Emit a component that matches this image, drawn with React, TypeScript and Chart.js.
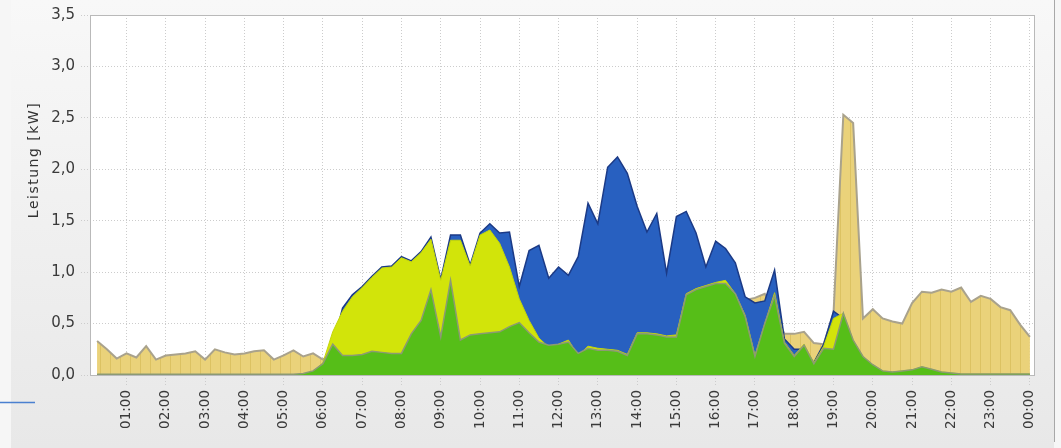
import React, { useEffect, useRef } from 'react';
import { Chart, registerables } from 'chart.js';

Chart.register(...registerables);

const TIMES = [
  '00:15', '00:30', '00:45', '01:00', '01:15', '01:30', '01:45', '02:00',
  '02:15', '02:30', '02:45', '03:00', '03:15', '03:30', '03:45', '04:00',
  '04:15', '04:30', '04:45', '05:00', '05:15', '05:30', '05:45', '06:00',
  '06:15', '06:30', '06:45', '07:00', '07:15', '07:30', '07:45', '08:00',
  '08:15', '08:30', '08:45', '09:00', '09:15', '09:30', '09:45', '10:00',
  '10:15', '10:30', '10:45', '11:00', '11:15', '11:30', '11:45', '12:00',
  '12:15', '12:30', '12:45', '13:00', '13:15', '13:30', '13:45', '14:00',
  '14:15', '14:30', '14:45', '15:00', '15:15', '15:30', '15:45', '16:00',
  '16:15', '16:30', '16:45', '17:00', '17:15', '17:30', '17:45', '18:00',
  '18:15', '18:30', '18:45', '19:00', '19:15', '19:30', '19:45', '20:00',
  '20:15', '20:30', '20:45', '21:00', '21:15', '21:30', '21:45', '22:00',
  '22:15', '22:30', '22:45', '23:00', '23:15', '23:30', '23:45', '24:00',
];

// tan area
const CONSUMPTION = [
  0.33, 0.25, 0.16, 0.21,
  0.17, 0.28, 0.15, 0.19,
  0.20, 0.21, 0.23, 0.15,
  0.25, 0.22, 0.20, 0.21,
  0.23, 0.24, 0.15, 0.19,
  0.24, 0.18, 0.21, 0.15,
  0.22, 0.30, 0.35, 0.35,
  0.40, 0.40, 0.45, 0.45,
  0.50, 0.55, 0.80, 0.40,
  0.85, 0.40, 0.45, 0.45,
  0.45, 0.45, 0.50, 0.55,
  0.45, 0.35, 0.30, 0.30,
  0.34, 0.20, 0.28, 0.26,
  0.26, 0.25, 0.21, 0.42,
  0.42, 0.41, 0.39, 0.40,
  0.80, 0.85, 0.88, 0.90,
  0.90, 0.80, 0.73, 0.75,
  0.79, 0.62, 0.40, 0.40,
  0.42, 0.31, 0.30, 0.60,
  2.53, 2.45, 0.55, 0.64,
  0.55, 0.52, 0.50, 0.70,
  0.81, 0.80, 0.83, 0.81,
  0.85, 0.71, 0.77, 0.74,
  0.66, 0.63, 0.49, 0.37,
];

// blue area
const PRODUCTION = [
  0, 0, 0, 0,
  0, 0, 0, 0,
  0, 0, 0, 0,
  0, 0, 0, 0,
  0, 0, 0, 0,
  0, 0, 0, 0.10,
  0.28, 0.65, 0.78, 0.86,
  0.96, 1.05, 1.06, 1.15,
  1.11, 1.20, 1.34, 0.93,
  1.36, 1.36, 1.07, 1.38,
  1.47, 1.38, 1.39, 0.86,
  1.21, 1.26, 0.94, 1.05,
  0.97, 1.15, 1.67, 1.47,
  2.02, 2.12, 1.96, 1.64,
  1.39, 1.57, 0.99, 1.54,
  1.59, 1.38, 1.05, 1.30,
  1.23, 1.09, 0.76, 0.70,
  0.72, 1.02, 0.35, 0.25,
  0.25, 0.12, 0.30, 0.62,
  0.55, 0.30, 0.12, 0.05,
  0.02, 0, 0, 0,
  0, 0, 0, 0,
  0, 0, 0, 0,
  0, 0, 0, 0,
];

// lime area
const SELF_USE = [
  0, 0, 0, 0,
  0, 0, 0, 0,
  0, 0, 0, 0,
  0, 0, 0, 0,
  0, 0, 0, 0,
  0, 0, 0.03, 0.12,
  0.42, 0.62, 0.76, 0.85,
  0.95, 1.04, 1.05, 1.14,
  1.10, 1.19, 1.32, 0.92,
  1.31, 1.31, 1.06, 1.36,
  1.41, 1.28, 1.05, 0.74,
  0.53, 0.36, 0.27, 0.30,
  0.34, 0.19, 0.28, 0.26,
  0.25, 0.24, 0.20, 0.41,
  0.41, 0.40, 0.38, 0.39,
  0.79, 0.84, 0.87, 0.90,
  0.92, 0.79, 0.58, 0.19,
  0.50, 0.80, 0.32, 0.19,
  0.30, 0.12, 0.28, 0.55,
  0.60, 0.34, 0.18, 0.10,
  0.04, 0.03, 0.04, 0.05,
  0.08, 0.055, 0.03, 0.02,
  0.01, 0.01, 0.01, 0.01,
  0.01, 0.01, 0.01, 0.01,
];

// green area
const DIRECT_USE = [
  0.008, 0.008, 0.008, 0.008,
  0.008, 0.008, 0.008, 0.008,
  0.008, 0.008, 0.008, 0.008,
  0.008, 0.008, 0.008, 0.008,
  0.008, 0.008, 0.008, 0.008,
  0.008, 0.015, 0.04, 0.11,
  0.30, 0.19, 0.19, 0.20,
  0.23, 0.22, 0.21, 0.21,
  0.40, 0.53, 0.83, 0.37,
  0.92, 0.34, 0.39, 0.40,
  0.41, 0.42, 0.47, 0.51,
  0.41, 0.32, 0.29, 0.30,
  0.32, 0.21, 0.26, 0.24,
  0.24, 0.23, 0.19, 0.40,
  0.40, 0.39, 0.37, 0.37,
  0.78, 0.83, 0.86, 0.89,
  0.89, 0.79, 0.57, 0.18,
  0.50, 0.77, 0.31, 0.18,
  0.29, 0.11, 0.26, 0.25,
  0.60, 0.34, 0.18, 0.10,
  0.04, 0.03, 0.04, 0.05,
  0.08, 0.055, 0.03, 0.02,
  0.01, 0.01, 0.01, 0.01,
  0.01, 0.01, 0.01, 0.01,
];

const X_TICK_HOURS = [1, 2, 3, 4, 5, 6, 7, 8, 9, 10, 11, 12, 13, 14, 15, 16, 17, 18, 19, 20, 21, 22, 23, 24];
const X_TICK_LABELS = [
  '01:00', '02:00', '03:00', '04:00', '05:00', '06:00', '07:00', '08:00',
  '09:00', '10:00', '11:00', '12:00', '13:00', '14:00', '15:00', '16:00',
  '17:00', '18:00', '19:00', '20:00', '21:00', '22:00', '23:00', '00:00',
];
const Y_TICK_VALUES = [0, 0.5, 1, 1.5, 2, 2.5, 3, 3.5];
const Y_TICK_LABELS = ['0,0', '0,5', '1,0', '1,5', '2,0', '2,5', '3,0', '3,5'];
const Y_TITLE = 'Leistung [kW]';

const toHours = (t: string) => {
  const [h, m] = t.split(':').map(Number);
  return h + m / 60;
};

const series = (vals: number[]) => TIMES.map((t, i) => ({ x: toHours(t), y: vals[i] }));

const decorPlugin = {
  id: 'decor',
  beforeDraw(chart: any) {
    const { ctx, width, height, chartArea: a } = chart;
    ctx.save();
    ctx.fillStyle = '#f6f6f6';
    ctx.fillRect(0, 0, width, height);
    const g = ctx.createLinearGradient(0, 0, 0, height);
    g.addColorStop(0, '#f8f8f8');
    g.addColorStop(1, '#e8e8e8');
    ctx.fillStyle = g;
    ctx.fillRect(11, 0, 1043, height);
    ctx.fillStyle = '#ffffff';
    ctx.fillRect(a.left, a.top, a.right - a.left, a.bottom - a.top);
    ctx.restore();
  },
  afterDraw(chart: any) {
    const { ctx, height, chartArea: a } = chart;
    ctx.save();
    ctx.strokeStyle = '#b9b9b9';
    ctx.lineWidth = 1;
    ctx.strokeRect(a.left + 0.5, a.top + 0.5, a.right - a.left - 1, a.bottom - a.top);
    // right panel edge
    ctx.strokeStyle = '#a8a8a8';
    ctx.beginPath();
    ctx.moveTo(1054.5, 0);
    ctx.lineTo(1054.5, height - 6);
    ctx.stroke();
    // small blue line bottom-left
    ctx.strokeStyle = '#4a80d0';
    ctx.lineWidth = 1.5;
    ctx.beginPath();
    ctx.moveTo(0, 402.5);
    ctx.lineTo(35, 402.5);
    ctx.stroke();
    // y-axis title
    ctx.translate(34, 160);
    ctx.rotate(-Math.PI / 2);
    ctx.fillStyle = '#333333';
    ctx.font = '14px "DejaVu Sans"';
    (ctx as any).letterSpacing = '1.5px';
    ctx.textAlign = 'center';
    ctx.textBaseline = 'middle';
    ctx.fillText(Y_TITLE, 0, 0);
    ctx.restore();
  },
};

export default function App() {
  const ref = useRef<HTMLCanvasElement | null>(null);

  useEffect(() => {
    if (!ref.current) return;
    document.body.style.margin = '0';

    const pc = document.createElement('canvas');
    pc.width = 10;
    pc.height = 4;
    const pctx = pc.getContext('2d')!;
    pctx.fillStyle = '#ead27a';
    pctx.fillRect(0, 0, 10, 4);
    pctx.fillStyle = '#dcc262';
    pctx.fillRect(0, 0, 1, 4);
    const tanFill = pctx.createPattern(pc, 'repeat') || '#ead27a';

    const gridColor = '#cccccc';
    const chart = new Chart(ref.current, {
      type: 'line',
      data: {
        datasets: [
          {
            label: 'Direktverbrauch',
            data: series(DIRECT_USE),
            fill: 'origin',
            backgroundColor: '#56be18',
            borderColor: '#8c9a74',
            borderWidth: 1.5,
            pointRadius: 0,
            tension: 0,
            order: 1,
          },
          {
            label: 'Eigenverbrauch',
            data: series(SELF_USE),
            fill: 'origin',
            backgroundColor: '#d2e40a',
            borderColor: '#c4d60a',
            borderWidth: 1,
            pointRadius: 0,
            tension: 0,
            order: 2,
          },
          {
            label: 'Erzeugung',
            data: series(PRODUCTION),
            fill: 'origin',
            backgroundColor: '#2860c0',
            borderColor: '#1b3a86',
            borderWidth: 1.5,
            pointRadius: 0,
            tension: 0,
            order: 3,
          },
          {
            label: 'Verbrauch',
            data: series(CONSUMPTION),
            fill: 'origin',
            backgroundColor: tanFill as any,
            borderColor: '#a9a28c',
            borderWidth: 2,
            pointRadius: 0,
            tension: 0,
            order: 4,
          },
        ],
      },
      options: {
        animation: false,
        responsive: false,
        maintainAspectRatio: false,
        layout: { padding: { top: 14, right: 26, left: 0, bottom: 0 } },
        plugins: {
          legend: { display: false },
          tooltip: { enabled: false },
        },
        scales: {
          x: {
            type: 'linear',
            min: 0.07,
            max: 24.13,
            afterBuildTicks: (s: any) => {
              s.ticks = X_TICK_HOURS.map((v) => ({ value: v }));
            },
            afterFit: (s: any) => {
              s.height = 73;
            },
            grid: {
              color: gridColor,
              tickColor: gridColor,
              tickLength: 10,
              tickBorderDash: [1, 2],
            },
            border: { display: false, dash: [1, 2] },
            ticks: {
              autoSkip: false,
              minRotation: 90,
              maxRotation: 90,
              padding: 5,
              color: '#3a3a3a',
              font: { family: '"DejaVu Sans"', size: 13.5 },
              callback: (v: any) => {
                const i = X_TICK_HOURS.indexOf(Number(v));
                return i >= 0 ? X_TICK_LABELS[i] : '';
              },
            },
          },
          y: {
            min: 0,
            max: 3.5,
            afterBuildTicks: (s: any) => {
              s.ticks = Y_TICK_VALUES.map((v) => ({ value: v }));
            },
            afterFit: (s: any) => {
              s.width = 90;
            },
            grid: {
              color: gridColor,
              tickColor: gridColor,
              tickLength: 9,
              tickBorderDash: [1, 2],
            },
            border: { display: false, dash: [1, 2] },
            ticks: {
              padding: 6,
              color: '#3a3a3a',
              font: { family: '"DejaVu Sans"', size: 15 },
              callback: (v: any) => {
                const i = Y_TICK_VALUES.indexOf(Number(v));
                return i >= 0 ? Y_TICK_LABELS[i] : '';
              },
            },
          },
        },
      },
      plugins: [decorPlugin],
    });

    return () => chart.destroy();
  }, []);

  return (
    <div style={{ position: 'fixed', left: 0, top: 0, width: 1061, height: 448 }}>
      <canvas ref={ref} width={1061} height={448} style={{ display: 'block' }} />
    </div>
  );
}
